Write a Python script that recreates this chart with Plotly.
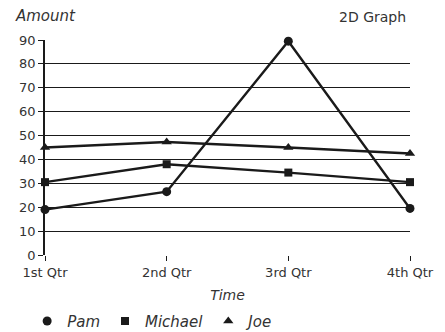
import plotly.graph_objects as go

quarters = ["1st Qtr", "2nd Qtr", "3rd Qtr", "4th Qtr"]
pam = [19, 26.5, 89.5, 19.5]
michael = [30.5, 38, 34.5, 30.5]
joe = [45, 47.3, 45, 42.5]
y_ticks = [0, 10, 20, 30, 40, 50, 60, 70, 80, 90]

series = [("Pam", pam, "circle", 9), ("Michael", michael, "square", 8), ("Joe", joe, "triangle-up", 9)]
INK = "#1a1a1a"
TXT = "#333333"
FONT = "DejaVu Sans"

fig = go.Figure()
for name, vals, sym, sz in series:
    fig.add_trace(go.Scatter(x=quarters, y=vals, mode="lines+markers", name=name,
                             line=dict(color=INK, width=2.4),
                             marker=dict(symbol=sym, size=sz, color=INK),
                             showlegend=False, cliponaxis=False))
for name, vals, sym, sz in series:
    fig.add_trace(go.Scatter(x=[None], y=[None], mode="markers", name="<i>" + name + "</i>",
                             marker=dict(symbol=sym, size=sz, color=INK),
                             showlegend=True))

fig.update_layout(
    width=445, height=332,
    margin=dict(l=45, r=35, t=40, b=77, autoexpand=False),
    paper_bgcolor="white", plot_bgcolor="white",
    font=dict(family=FONT, size=13, color=TXT),
    xaxis=dict(type="category", range=[0, 3], showgrid=False, zeroline=False, automargin=False,
               showline=False, ticks="outside", ticklen=5, tickcolor=INK, tickwidth=1.2,
               tickfont=dict(size=13, color=TXT),
               title=dict(text="<i>Time</i>", font=dict(size=14, color=TXT), standoff=11)),
    yaxis=dict(range=[0, 90], tickvals=y_ticks, showgrid=True, gridcolor=INK, gridwidth=1.3,
               zeroline=False, showline=True, linecolor=INK, linewidth=1.5, automargin=False,
               ticks="outside", ticklen=5, tickcolor=INK, tickwidth=1.2,
               tickfont=dict(size=13, color=TXT)),
    legend=dict(orientation="h", x=0.061, xanchor="left", xref="container",
                y=0.082, yanchor="top", yref="container",
                font=dict(size=15, color=TXT), itemwidth=30, traceorder="normal"),
    annotations=[
        dict(text="<i>Amount</i>", xref="paper", yref="paper", x=-0.088, y=1.06,
             xanchor="left", yanchor="bottom", showarrow=False, font=dict(size=15, color=TXT)),
        dict(text="2D Graph", xref="paper", yref="paper", x=0.995, y=1.06,
             xanchor="right", yanchor="bottom", showarrow=False, font=dict(size=14, color=TXT)),
    ],
)

fig.write_html("out.html")
